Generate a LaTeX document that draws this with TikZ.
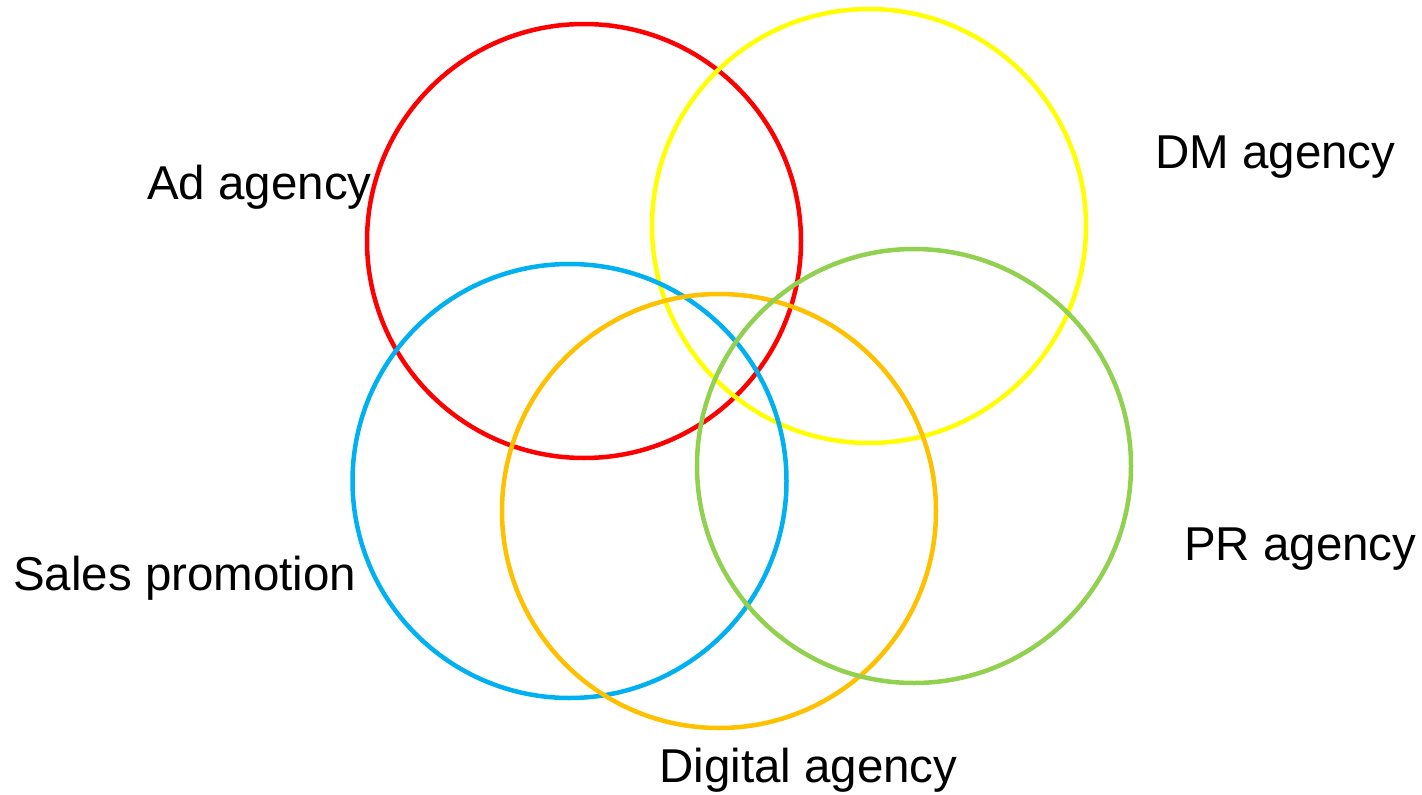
\documentclass[tikz,border=0pt]{standalone}
\usepackage{fontspec}
\setmainfont{Liberation Sans}
\definecolor{ringred}{HTML}{FF0000}
\definecolor{ringyellow}{HTML}{FFFF00}
\definecolor{ringblue}{HTML}{00B0F0}
\definecolor{ringorange}{HTML}{FFC000}
\definecolor{ringgreen}{HTML}{92D050}
\begin{document}
\begin{tikzpicture}[x=1pt,y=-1pt,
  ring/.style={line width=4.5pt},
  lbl/.style={anchor=base west,inner sep=0pt,font=\fontsize{47.5}{57}\selectfont}]
\useasboundingbox (0,0) rectangle (1422,795);
% five overlapping circles
\draw[ring,ringred]    (584,241) circle[radius=217];
\draw[ring,ringyellow] (869,226) circle[radius=217];
\draw[ring,ringblue]   (569.5,481) circle[radius=217];
\draw[ring,ringorange] (719,511) circle[radius=217];
\draw[ring,ringgreen]  (914,466) circle[radius=217];
% labels
\node[lbl] (ad) at (147,199) {Ad agency};
\node[lbl] (dm) at (1155,168) {DM agency};
\node[lbl] (pr) at (1184,560) {PR agency};
\node[lbl] (sp) at (13,590) {Sales promotion};
\node[lbl] (dg) at (659,782) {Digital agency};
\end{tikzpicture}
\end{document}
